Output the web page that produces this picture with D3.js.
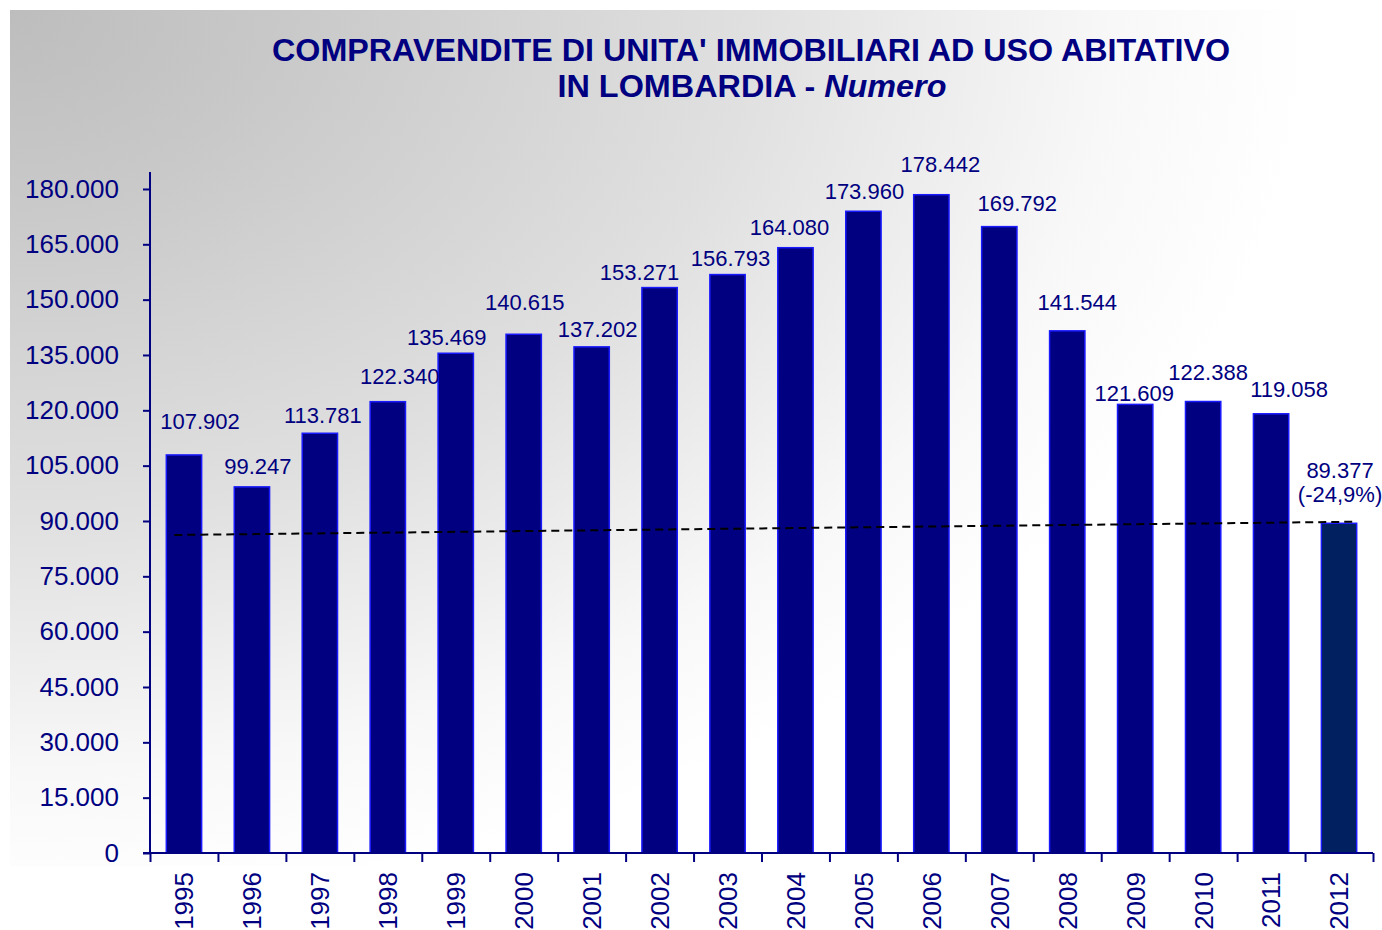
<!DOCTYPE html>
<html>
<head>
<meta charset="utf-8">
<script src="https://cdn.jsdelivr.net/npm/d3@7"></script>
<style>
  body { margin: 0; background: #fff; }
  text { font-family: "Liberation Sans", Arial, sans-serif; }
</style>
</head>
<body>
<div id="chart"></div>
<script>
// data
var years = ["1995","1996","1997","1998","1999","2000","2001","2002","2003",
             "2004","2005","2006","2007","2008","2009","2010","2011","2012"];
var sales = [107902, 99247, 113781, 122340, 135469, 140615, 137202, 153271, 156793,
             164080, 173960, 178442, 169792, 141544, 121609, 122388, 119058, 89377];
var labels = ["107.902","99.247","113.781","122.340","135.469","140.615","137.202","153.271","156.793",
              "164.080","173.960","178.442","169.792","141.544","121.609","122.388","119.058","89.377"];
var lastNote = "(-24,9%)";
var trendStart = 86200, trendEnd = 89800;
var yTicks = [0,15000,30000,45000,60000,75000,90000,105000,120000,135000,150000,165000,180000];

// small nudges of the value labels (px), as placed in the original
var labelDx = [16, 6, 3, 12, -9, 1, 6, -20, 3, -6, 1, 9, 18, 10, -1, 5, 18, 1];
var labelDy = [-34, -21, -18, -26, -16, -32, -18, -16, -17, -21, -20, -31, -24, -29, -11, -30, -25, -53];

var drawChart = function() {
  var W = 1382, H = 930;
  var navy = "#000080";

  var svg = d3.select("#chart").append("svg")
    .attr("width", W).attr("height", H);

  // background gradient, grey in the top-left corner fading to white
  var defs = svg.append("defs");
  var grad = defs.append("radialGradient").attr("id", "bg")
    .attr("gradientUnits", "userSpaceOnUse")
    .attr("cx", 10).attr("cy", 10).attr("fx", 10).attr("fy", 10).attr("r", 1300)
    .attr("gradientTransform", "translate(10,10) scale(1,0.69) translate(-10,-10)");
  grad.append("stop").attr("offset", "0").attr("stop-color", "#bdbdbd");
  grad.append("stop").attr("offset", "0.2").attr("stop-color", "#c8c8c8");
  grad.append("stop").attr("offset", "0.57").attr("stop-color", "#e0e0e0");
  grad.append("stop").attr("offset", "0.85").attr("stop-color", "#f8f8f8");
  grad.append("stop").attr("offset", "1").attr("stop-color", "#ffffff");

  svg.append("rect")
    .attr("x", 10).attr("y", 10).attr("width", 1362).attr("height", 856)
    .attr("fill", "url(#bg)");

  // title
  var title = svg.append("g").attr("fill", navy).attr("font-weight", "bold")
    .attr("text-anchor", "middle");
  title.append("text")
    .attr("x", 751).attr("y", 61)
    .attr("font-size", 31)
    .attr("textLength", 958).attr("lengthAdjust", "spacingAndGlyphs")
    .text("COMPRAVENDITE DI UNITA' IMMOBILIARI  AD USO ABITATIVO");
  var t2 = title.append("text")
    .attr("x", 752).attr("y", 97)
    .attr("font-size", 31)
    .attr("textLength", 389).attr("lengthAdjust", "spacingAndGlyphs");
  t2.append("tspan").text("IN LOMBARDIA - ");
  t2.append("tspan").attr("font-style", "italic").text("Numero");

  // scales
  var plotLeft = 150, plotRight = 1373, plotBottom = 853, plotTop = 172;
  var x = d3.scaleBand().domain(years).range([plotLeft, plotRight]).padding(0);
  var y = d3.scaleLinear().domain([0, 184600]).range([plotBottom, plotTop]);
  var bw = x.bandwidth() * 0.52;
  var xc = function(i) { return x(years[i]) + x.bandwidth() / 2; };

  // bars
  svg.append("g").selectAll("rect")
    .data(sales)
    .enter().append("rect")
    .attr("x", function(d, i) { return xc(i) - bw / 2; })
    .attr("y", function(d) { return y(d); })
    .attr("width", bw)
    .attr("height", function(d) { return y(0) - y(d); })
    .attr("fill", function(d, i) { return i == years.length - 1 ? "#00205f" : navy; })
    .attr("stroke", "#1a1aff")
    .attr("stroke-width", 1.5);

  // trend line
  svg.append("line")
    .attr("x1", xc(0) - bw / 2 + 8).attr("y1", y(trendStart))
    .attr("x2", xc(years.length - 1) + bw / 2).attr("y2", y(trendEnd))
    .attr("stroke", "#000").attr("stroke-width", 2)
    .attr("stroke-dasharray", "8,5");

  // y axis
  var yAxis = svg.append("g")
    .attr("transform", "translate(" + plotLeft + ",0)")
    .call(d3.axisLeft(y).tickValues(yTicks).tickSize(7).tickPadding(24)
      .tickFormat(function(d) { return d3.format(",")(d).replace(/,/g, "."); }));
  yAxis.select(".domain").attr("stroke", navy).attr("stroke-width", 2)
    .attr("d", "M0," + plotTop + "V" + plotBottom);
  yAxis.selectAll(".tick line").attr("stroke", navy).attr("stroke-width", 2);
  yAxis.selectAll(".tick text").attr("fill", navy).attr("font-size", 26)
    .attr("font-family", "Liberation Sans, Arial, sans-serif");

  // x axis: ticks at the category boundaries
  var xb = d3.scaleLinear().domain([0, years.length]).range([plotLeft, plotRight]);
  var xTicks = svg.append("g")
    .attr("transform", "translate(0," + plotBottom + ")")
    .call(d3.axisBottom(xb).tickValues(d3.range(years.length + 1)).tickSize(9).tickFormat(""));
  xTicks.select(".domain").attr("stroke", navy).attr("stroke-width", 2)
    .attr("d", "M" + (plotLeft - 7) + ",0H" + plotRight);
  xTicks.selectAll(".tick line").attr("stroke", navy).attr("stroke-width", 2);

  // x labels, rotated
  var xAxis = svg.append("g")
    .attr("transform", "translate(0," + plotBottom + ")")
    .call(d3.axisBottom(x).tickSize(0));
  xAxis.select(".domain").remove();
  xAxis.selectAll(".tick text")
    .attr("fill", navy).attr("font-size", 26)
    .attr("font-family", "Liberation Sans, Arial, sans-serif")
    .attr("text-anchor", "end")
    .attr("transform", "translate(0,19) rotate(-90)")
    .attr("x", 0).attr("y", 0).attr("dy", "0.36em");

  // value labels
  var vl = svg.append("g").attr("fill", navy).attr("font-size", 22).attr("text-anchor", "middle");
  vl.selectAll("text")
    .data(sales)
    .enter().append("text")
    .attr("x", function(d, i) { return xc(i) + labelDx[i]; })
    .attr("y", function(d, i) { return y(d) + labelDy[i] + 8; })
    .text(function(d, i) { return labels[i]; });
  var li = years.length - 1;
  vl.append("text")
    .attr("x", xc(li) + labelDx[li])
    .attr("y", y(sales[li]) + labelDy[li] + 24 + 8)
    .text(lastNote);
};

drawChart();
</script>
</body>
</html>
